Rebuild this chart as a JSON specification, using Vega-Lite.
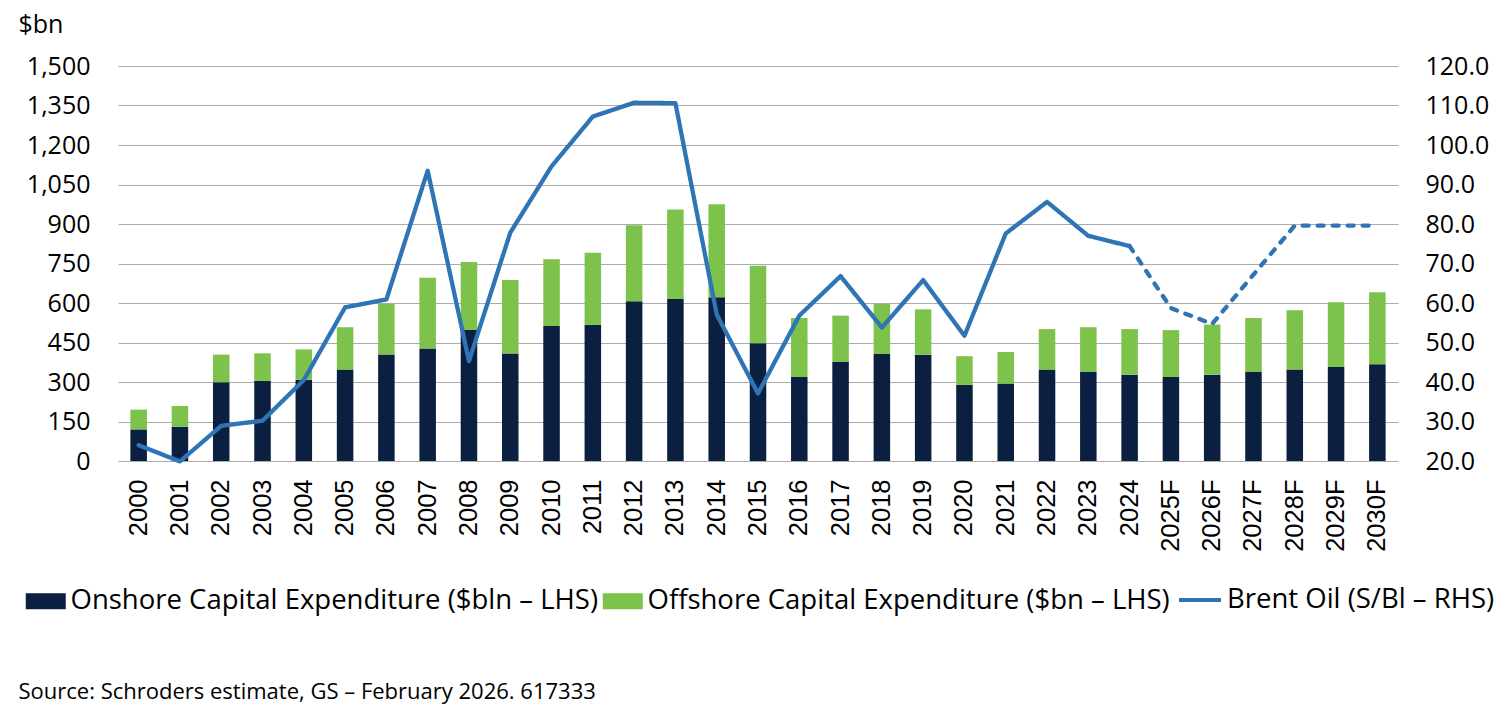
{
  "$schema": "https://vega.github.io/schema/vega-lite/v6.json",
  "width": 1280,
  "height": 395,
  "autosize": {"type": "none"},
  "padding": {"left": 118, "top": 66, "right": 110, "bottom": 249},
  "background": "white",
  "datasets": {
    "capex": [
      {"year": "2000", "type": "Onshore Capital Expenditure ($bln – LHS)", "value": 120},
      {"year": "2000", "type": "Offshore Capital Expenditure ($bn – LHS)", "value": 75},
      {"year": "2001", "type": "Onshore Capital Expenditure ($bln – LHS)", "value": 130},
      {"year": "2001", "type": "Offshore Capital Expenditure ($bn – LHS)", "value": 79},
      {"year": "2002", "type": "Onshore Capital Expenditure ($bln – LHS)", "value": 299},
      {"year": "2002", "type": "Offshore Capital Expenditure ($bn – LHS)", "value": 105},
      {"year": "2003", "type": "Onshore Capital Expenditure ($bln – LHS)", "value": 304},
      {"year": "2003", "type": "Offshore Capital Expenditure ($bn – LHS)", "value": 105},
      {"year": "2004", "type": "Onshore Capital Expenditure ($bln – LHS)", "value": 309},
      {"year": "2004", "type": "Offshore Capital Expenditure ($bn – LHS)", "value": 115},
      {"year": "2005", "type": "Onshore Capital Expenditure ($bln – LHS)", "value": 347},
      {"year": "2005", "type": "Offshore Capital Expenditure ($bn – LHS)", "value": 161},
      {"year": "2006", "type": "Onshore Capital Expenditure ($bln – LHS)", "value": 404},
      {"year": "2006", "type": "Offshore Capital Expenditure ($bn – LHS)", "value": 193},
      {"year": "2007", "type": "Onshore Capital Expenditure ($bln – LHS)", "value": 427},
      {"year": "2007", "type": "Offshore Capital Expenditure ($bn – LHS)", "value": 269},
      {"year": "2008", "type": "Onshore Capital Expenditure ($bln – LHS)", "value": 497},
      {"year": "2008", "type": "Offshore Capital Expenditure ($bn – LHS)", "value": 259},
      {"year": "2009", "type": "Onshore Capital Expenditure ($bln – LHS)", "value": 408},
      {"year": "2009", "type": "Offshore Capital Expenditure ($bn – LHS)", "value": 279},
      {"year": "2010", "type": "Onshore Capital Expenditure ($bln – LHS)", "value": 513},
      {"year": "2010", "type": "Offshore Capital Expenditure ($bn – LHS)", "value": 253},
      {"year": "2011", "type": "Onshore Capital Expenditure ($bln – LHS)", "value": 517},
      {"year": "2011", "type": "Offshore Capital Expenditure ($bn – LHS)", "value": 274},
      {"year": "2012", "type": "Onshore Capital Expenditure ($bln – LHS)", "value": 607},
      {"year": "2012", "type": "Offshore Capital Expenditure ($bn – LHS)", "value": 288},
      {"year": "2013", "type": "Onshore Capital Expenditure ($bln – LHS)", "value": 615},
      {"year": "2013", "type": "Offshore Capital Expenditure ($bn – LHS)", "value": 340},
      {"year": "2014", "type": "Onshore Capital Expenditure ($bln – LHS)", "value": 622},
      {"year": "2014", "type": "Offshore Capital Expenditure ($bn – LHS)", "value": 353},
      {"year": "2015", "type": "Onshore Capital Expenditure ($bln – LHS)", "value": 447},
      {"year": "2015", "type": "Offshore Capital Expenditure ($bn – LHS)", "value": 294},
      {"year": "2016", "type": "Onshore Capital Expenditure ($bln – LHS)", "value": 319},
      {"year": "2016", "type": "Offshore Capital Expenditure ($bn – LHS)", "value": 224},
      {"year": "2017", "type": "Onshore Capital Expenditure ($bln – LHS)", "value": 376},
      {"year": "2017", "type": "Offshore Capital Expenditure ($bn – LHS)", "value": 176},
      {"year": "2018", "type": "Onshore Capital Expenditure ($bln – LHS)", "value": 406},
      {"year": "2018", "type": "Offshore Capital Expenditure ($bn – LHS)", "value": 191},
      {"year": "2019", "type": "Onshore Capital Expenditure ($bln – LHS)", "value": 403},
      {"year": "2019", "type": "Offshore Capital Expenditure ($bn – LHS)", "value": 173},
      {"year": "2020", "type": "Onshore Capital Expenditure ($bln – LHS)", "value": 289},
      {"year": "2020", "type": "Offshore Capital Expenditure ($bn – LHS)", "value": 109},
      {"year": "2021", "type": "Onshore Capital Expenditure ($bln – LHS)", "value": 294},
      {"year": "2021", "type": "Offshore Capital Expenditure ($bn – LHS)", "value": 120},
      {"year": "2022", "type": "Onshore Capital Expenditure ($bln – LHS)", "value": 347},
      {"year": "2022", "type": "Offshore Capital Expenditure ($bn – LHS)", "value": 154},
      {"year": "2023", "type": "Onshore Capital Expenditure ($bln – LHS)", "value": 338},
      {"year": "2023", "type": "Offshore Capital Expenditure ($bn – LHS)", "value": 170},
      {"year": "2024", "type": "Onshore Capital Expenditure ($bln – LHS)", "value": 328},
      {"year": "2024", "type": "Offshore Capital Expenditure ($bn – LHS)", "value": 173},
      {"year": "2025F", "type": "Onshore Capital Expenditure ($bln – LHS)", "value": 319},
      {"year": "2025F", "type": "Offshore Capital Expenditure ($bn – LHS)", "value": 178},
      {"year": "2026F", "type": "Onshore Capital Expenditure ($bln – LHS)", "value": 328},
      {"year": "2026F", "type": "Offshore Capital Expenditure ($bn – LHS)", "value": 190},
      {"year": "2027F", "type": "Onshore Capital Expenditure ($bln – LHS)", "value": 338},
      {"year": "2027F", "type": "Offshore Capital Expenditure ($bn – LHS)", "value": 205},
      {"year": "2028F", "type": "Onshore Capital Expenditure ($bln – LHS)", "value": 347},
      {"year": "2028F", "type": "Offshore Capital Expenditure ($bn – LHS)", "value": 225},
      {"year": "2029F", "type": "Onshore Capital Expenditure ($bln – LHS)", "value": 357},
      {"year": "2029F", "type": "Offshore Capital Expenditure ($bn – LHS)", "value": 246},
      {"year": "2030F", "type": "Onshore Capital Expenditure ($bln – LHS)", "value": 367},
      {"year": "2030F", "type": "Offshore Capital Expenditure ($bn – LHS)", "value": 274}
    ],
    "brent": [
      {"year": "2000", "price": 24.0, "phase": "Actual"},
      {"year": "2001", "price": 19.9, "phase": "Actual"},
      {"year": "2002", "price": 28.9, "phase": "Actual"},
      {"year": "2003", "price": 30.2, "phase": "Actual"},
      {"year": "2004", "price": 40.5, "phase": "Actual"},
      {"year": "2005", "price": 58.9, "phase": "Actual"},
      {"year": "2006", "price": 60.9, "phase": "Actual"},
      {"year": "2007", "price": 93.5, "phase": "Actual"},
      {"year": "2008", "price": 45.3, "phase": "Actual"},
      {"year": "2009", "price": 77.8, "phase": "Actual"},
      {"year": "2010", "price": 94.6, "phase": "Actual"},
      {"year": "2011", "price": 107.2, "phase": "Actual"},
      {"year": "2012", "price": 110.7, "phase": "Actual"},
      {"year": "2013", "price": 110.6, "phase": "Actual"},
      {"year": "2014", "price": 57.1, "phase": "Actual"},
      {"year": "2015", "price": 37.1, "phase": "Actual"},
      {"year": "2016", "price": 56.8, "phase": "Actual"},
      {"year": "2017", "price": 66.8, "phase": "Actual"},
      {"year": "2018", "price": 53.8, "phase": "Actual"},
      {"year": "2019", "price": 65.8, "phase": "Actual"},
      {"year": "2020", "price": 51.7, "phase": "Actual"},
      {"year": "2021", "price": 77.6, "phase": "Actual"},
      {"year": "2022", "price": 85.6, "phase": "Actual"},
      {"year": "2023", "price": 77.0, "phase": "Actual"},
      {"year": "2024", "price": 74.4, "phase": "Actual"},
      {"year": "2024", "price": 74.4, "phase": "Forecast"},
      {"year": "2025F", "price": 58.7, "phase": "Forecast"},
      {"year": "2026F", "price": 54.7, "phase": "Forecast"},
      {"year": "2027F", "price": 67.2, "phase": "Forecast"},
      {"year": "2028F", "price": 79.6, "phase": "Forecast"},
      {"year": "2029F", "price": 79.6, "phase": "Forecast"},
      {"year": "2030F", "price": 79.6, "phase": "Forecast"}
    ]
  },
  "encoding": {
    "x": {
      "field": "year",
      "type": "nominal",
      "sort": null,
      "scale": {"paddingInner": 0.6, "paddingOuter": 0.3},
      "axis": {
        "labelAngle": 270,
        "labelFont": "Liberation Sans",
        "labelFontSize": 25.5,
        "labelColor": "#000000",
        "labelPadding": 18,
        "ticks": false,
        "domain": false,
        "grid": false,
        "title": "Source: Schroders estimate, GS – February 2026. 617333",
        "titleFont": "Open Sans",
        "titleFontSize": 22,
        "titleFontWeight": "normal",
        "titleColor": "#000000",
        "titleAngle": 0,
        "titleAlign": "left",
        "titleBaseline": "alphabetic",
        "titleX": -100,
        "titleY": 237
      }
    }
  },
  "layer": [
    {
      "data": {"name": "capex"},
      "mark": {"type": "bar"},
      "encoding": {
        "y": {
          "field": "value",
          "type": "quantitative",
          "stack": "zero",
          "scale": {"domain": [0, 1500], "nice": false},
          "axis": {
            "values": [0, 150, 300, 450, 600, 750, 900, 1050, 1200, 1350, 1500],
            "format": ",.0f",
            "labelFont": "Open Sans",
            "labelFontSize": 25,
            "labelColor": "#000000",
            "labelPadding": 28,
            "ticks": false,
            "domain": false,
            "grid": true,
            "gridColor": "#ABABAB",
            "gridWidth": 1,
            "title": "$bn",
            "titleFont": "Open Sans",
            "titleFontSize": 25,
            "titleFontWeight": "normal",
            "titleColor": "#000000",
            "titleAngle": 0,
            "titleAlign": "left",
            "titleBaseline": "alphabetic",
            "titleX": -100,
            "titleY": -34
          }
        },
        "color": {
          "field": "type",
          "type": "nominal",
          "sort": ["Onshore Capital Expenditure ($bln – LHS)", "Offshore Capital Expenditure ($bn – LHS)"],
          "scale": {
            "domain": ["Onshore Capital Expenditure ($bln – LHS)", "Offshore Capital Expenditure ($bn – LHS)"],
            "range": ["#0B1F41", "#7DC24B"]
          },
          "legend": {
            "title": null,
            "orient": "none",
            "direction": "horizontal",
            "legendX": -86,
            "legendY": 521,
            "symbolType": "M-2.5,-1H2.5V1H-2.5Z",
            "symbolSize": 256,
            "symbolStrokeWidth": 0,
            "symbolOpacity": 1,
            "labelFont": "Open Sans",
            "labelFontSize": 27.5,
            "labelColor": "#000000",
            "labelLimit": 1000,
            "labelOffset": 11,
            "columnPadding": 3
          }
        }
      }
    },
    {
      "data": {"name": "brent"},
      "mark": {"type": "line", "strokeWidth": 4.3, "strokeCap": "round", "strokeJoin": "round"},
      "encoding": {
        "y": {
          "field": "price",
          "type": "quantitative",
          "scale": {"domain": [20, 120], "nice": false},
          "axis": {
            "orient": "right",
            "values": [20, 30, 40, 50, 60, 70, 80, 90, 100, 110, 120],
            "format": ".1f",
            "labelFont": "Open Sans",
            "labelFontSize": 25,
            "labelColor": "#000000",
            "labelPadding": 27,
            "ticks": false,
            "domain": false,
            "grid": false,
            "title": null
          }
        },
        "detail": {"field": "phase", "type": "nominal"},
        "strokeDash": {
          "field": "phase",
          "type": "nominal",
          "scale": {"domain": ["Actual", "Forecast"], "range": [[1, 0], [6, 9]]},
          "legend": null
        },
        "stroke": {
          "datum": "Brent Oil (S/Bl – RHS)",
          "scale": {"range": ["#2F75B5"]},
          "legend": {
            "title": null,
            "orient": "none",
            "direction": "horizontal",
            "legendX": 1059,
            "legendY": 511,
            "symbolType": "stroke",
            "symbolSize": 1764,
            "symbolStrokeWidth": 4,
            "labelFont": "Open Sans",
            "labelFontSize": 27.5,
            "labelColor": "#000000",
            "labelLimit": 1000,
            "labelOffset": 4
          }
        }
      }
    }
  ],
  "resolve": {"scale": {"y": "independent"}},
  "config": {
    "view": {"stroke": null},
    "font": "Open Sans"
  }
}
